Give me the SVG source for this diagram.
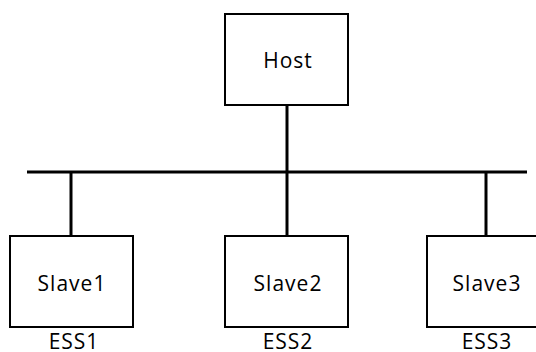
<svg xmlns="http://www.w3.org/2000/svg" width="536" height="352" viewBox="0 0 536 352">
<style>
.box{fill:#fff;stroke:#000;stroke-width:2}
.ln{stroke:#000;stroke-width:3;fill:none}
text{font-family:"Open Sans","Liberation Sans",sans-serif;font-size:21px;letter-spacing:1px;fill:#000;text-anchor:middle}
</style>
<rect width="536" height="352" fill="#fff"/>
<g id="connectors">
<line class="ln" x1="27" y1="172" x2="527" y2="172"/>
<line class="ln" x1="287" y1="105" x2="287" y2="172"/>
<line class="ln" x1="71" y1="172" x2="71" y2="236"/>
<line class="ln" x1="287" y1="172" x2="287" y2="236"/>
<line class="ln" x1="486" y1="172" x2="486" y2="236"/>
</g>
<g id="host">
<rect class="box" x="225" y="14" width="123" height="91"/>
<text x="288" y="68">Host</text>
</g>
<g id="slave1">
<rect class="box" x="10" y="236" width="123" height="91"/>
<text x="72" y="291">Slave1</text>
<text x="74" y="349">ESS1</text>
</g>
<g id="slave2">
<rect class="box" x="225" y="236" width="123" height="91"/>
<text x="288" y="291">Slave2</text>
<text x="288" y="349">ESS2</text>
</g>
<g id="slave3">
<rect class="box" x="427" y="236" width="123" height="91"/>
<text x="487" y="291">Slave3</text>
<text x="487" y="349">ESS3</text>
</g>
</svg>
